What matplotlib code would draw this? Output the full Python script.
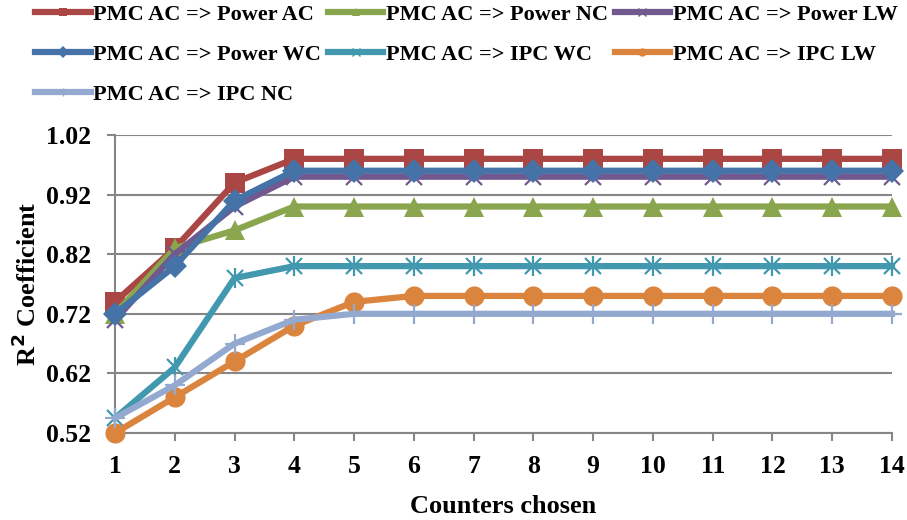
import matplotlib
matplotlib.use('Agg')
from matplotlib import pyplot as plt
from matplotlib.lines import Line2D

counters = list(range(1, 15))

power_ac = [0.74, 0.83, 0.94, 0.98, 0.98, 0.98, 0.98, 0.98, 0.98, 0.98, 0.98, 0.98, 0.98, 0.98]
power_nc = [0.72, 0.83, 0.86, 0.90, 0.90, 0.90, 0.90, 0.90, 0.90, 0.90, 0.90, 0.90, 0.90, 0.90]
power_lw = [0.71, 0.82, 0.90, 0.95, 0.95, 0.95, 0.95, 0.95, 0.95, 0.95, 0.95, 0.95, 0.95, 0.95]
power_wc = [0.72, 0.80, 0.91, 0.96, 0.96, 0.96, 0.96, 0.96, 0.96, 0.96, 0.96, 0.96, 0.96, 0.96]
ipc_wc = [0.545, 0.63, 0.78, 0.80, 0.80, 0.80, 0.80, 0.80, 0.80, 0.80, 0.80, 0.80, 0.80, 0.80]
ipc_lw = [0.52, 0.58, 0.64, 0.70, 0.74, 0.75, 0.75, 0.75, 0.75, 0.75, 0.75, 0.75, 0.75, 0.75]
ipc_nc = [0.545, 0.60, 0.67, 0.71, 0.72, 0.72, 0.72, 0.72, 0.72, 0.72, 0.72, 0.72, 0.72, 0.72]

y_ticks = [0.52, 0.62, 0.72, 0.82, 0.92, 1.02]

# label, values, colour, marker, marker size
series = [
    ('PMC AC => Power AC', power_ac, '#AA4643', 's', 14),
    ('PMC AC => Power NC', power_nc, '#89A54E', '^', 15),
    ('PMC AC => Power LW', power_lw, '#71588F', 'x', 12),
    ('PMC AC => Power WC', power_wc, '#4572A7', 'D', 12),
    ('PMC AC => IPC WC', ipc_wc, '#4198AF', 'x', 12),
    ('PMC AC => IPC LW', ipc_lw, '#DB843D', 'o', 14.5),
    ('PMC AC => IPC NC', ipc_nc, '#93A9CF', '+', 15),
]

plt.rcParams['font.family'] = ['Liberation Serif', 'DejaVu Serif']
plt.rcParams['font.weight'] = 'bold'

fig = plt.figure(figsize=(9.07, 5.2), dpi=100)
ax = fig.add_axes([115 / 907, 1 - 433 / 520, 777 / 907, 298 / 520])

grid_col = '#868686'
handles = {}
for label, vals, col, mk, ms in series:
    ax.plot(counters, vals, color=col, lw=4.5, marker=mk, markersize=ms,
            markeredgewidth=1.6 if mk in ('x', '+') else 0, markeredgecolor=col,
            clip_on=False, zorder=3)
    if label == 'PMC AC => IPC WC':
        # asterisk: add the vertical stroke on top of the x
        ax.plot(counters, vals, color=col, lw=0, marker='|', markersize=15,
                markeredgewidth=1.6, clip_on=False, zorder=3)
    handles[label] = Line2D([], [], color=col, lw=4.5, marker=mk, markersize=6,
                            markeredgewidth=1 if mk in ('x', '+') else 0,
                            markeredgecolor=col)

ax.set_xlim(1, 14)
ax.set_ylim(0.52, 1.02)
ax.set_xticks(counters)
ax.set_yticks(y_ticks)
ax.set_yticklabels(['%.2f' % v for v in y_ticks])
ax.yaxis.grid(True, color=grid_col, lw=1.5)
ax.set_axisbelow(True)
for s in ['top', 'right']:
    ax.spines[s].set_visible(False)
for s in ['left', 'bottom']:
    ax.spines[s].set_color(grid_col)
    ax.spines[s].set_linewidth(1.5)
ax.tick_params(axis='both', colors=grid_col, labelcolor='black', width=1.5,
               length=6, labelsize=18.5)
ax.tick_params(axis='y', pad=11)
ax.tick_params(axis='x', pad=10)

ax.set_xlabel('Counters chosen', fontsize=19, fontweight='bold', labelpad=12)
ax.set_ylabel('R$^{\\mathbf{2}}$ Coefficient', fontsize=19, fontweight='bold', labelpad=4)

order = ['PMC AC => Power AC', 'PMC AC => Power WC', 'PMC AC => IPC NC',
         'PMC AC => Power NC', 'PMC AC => IPC WC',
         'PMC AC => Power LW', 'PMC AC => IPC LW']
fig.legend([handles[k] for k in order], order, ncol=3, loc='upper left',
           bbox_to_anchor=(35 / 907, 1 - 4 / 520), frameon=False,
           fontsize=16, handlelength=2.5, handletextpad=0.12,
           columnspacing=0.3, labelspacing=0.88, borderpad=0, borderaxespad=0)

plt.savefig('out.png', dpi=100)
